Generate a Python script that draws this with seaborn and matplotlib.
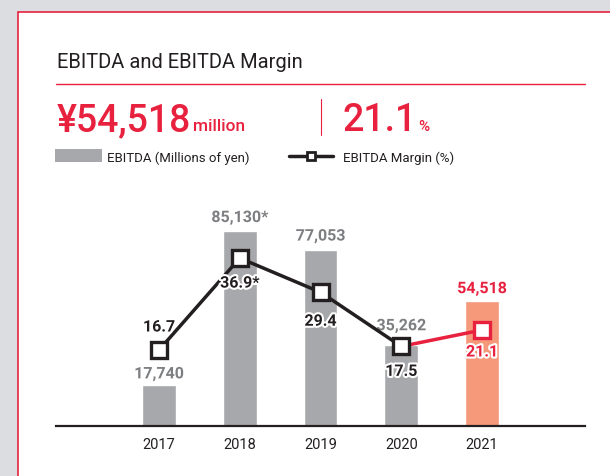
import numpy as np
import matplotlib
matplotlib.use("Agg")
import matplotlib.pyplot as plt
import matplotlib.patheffects as pe
from matplotlib.patches import Rectangle
from matplotlib.lines import Line2D
import seaborn as sns

# data
years = ["2017", "2018", "2019", "2020", "2021"]
ebitda = [17740, 85130, 77053, 35262, 54518]
ebitda_labels = ["17,740", "85,130*", "77,053", "35,262", "54,518"]
margin = [16.7, 36.9, 29.4, 17.5, 21.1]
margin_labels = ["16.7", "36.9*", "29.4", "17.5", "21.1"]

RED = "#e8213f"
GREY = "#a7a8ab"
ORANGE = "#f5997a"
DARK = "#231f20"
LABEL_GREY = "#7d7e81"
BG = "#dcdde0"

sns.set_theme(style="white")
plt.rcParams["font.family"] = ["Roboto", "DejaVu Sans"]

W, H = 610, 477
fig = plt.figure(figsize=(W / 100, H / 100), dpi=100, facecolor=BG)


def fx(px):
    return px / W


def fy(py):
    return 1 - py / H


# white panel with red border (behind the axes)
fig.patches.append(Rectangle((fx(18), -0.1), 1.2, fy(13) + 0.1, transform=fig.transFigure,
                             facecolor="white", edgecolor=RED, lw=1.2, zorder=-5))

# header
fig.text(fx(57), fy(68), "EBITDA and EBITDA Margin", fontsize=14.5, color=DARK,
         va="baseline", ha="left")
fig.lines.append(Line2D([fx(56), fx(585)], [fy(85), fy(85)], transform=fig.transFigure,
                        color=RED, lw=1))
fig.lines.append(Line2D([fx(321), fx(321)], [fy(100), fy(136)], transform=fig.transFigure,
                        color=RED, lw=0.8))

big1 = fig.text(fx(57), fy(131), "¥54,518", fontsize=27, color=RED, va="baseline",
                fontweight="medium")
big2 = fig.text(fx(342), fy(131), "21.1", fontsize=27, color=RED, va="baseline",
                fontweight="medium")
fig.canvas.draw()
r = fig.canvas.get_renderer()
e1 = big1.get_window_extent(r)
e2 = big2.get_window_extent(r)
fig.text((e1.x1 + 2) / W, fy(131), "million", fontsize=12.5, color=RED, va="baseline",
         fontweight="medium")
fig.text((e2.x1 + 2) / W, fy(131), "%", fontsize=11, color=RED, va="baseline",
         fontweight="medium")

# legend
fig.patches.append(Rectangle((fx(55), fy(163)), fx(102) - fx(55), fy(150) - fy(163),
                             transform=fig.transFigure, facecolor=GREY, edgecolor="none"))
fig.text(fx(107), fy(162), "EBITDA (Millions of yen)", fontsize=9.5, color=DARK,
         va="baseline")
fig.lines.append(Line2D([fx(289), fx(333)], [fy(157), fy(157)], transform=fig.transFigure,
                        color=DARK, lw=2.5))
fig.lines.append(Line2D([fx(311)], [fy(157)], transform=fig.transFigure, marker="s",
                        ms=6, mfc="white", mec=DARK, mew=2))
fig.text(fx(343), fy(162), "EBITDA Margin (%)", fontsize=9.5, color=DARK,
         va="baseline")

# chart area
ax_top, ax_bot = 190, 427
ax = fig.add_axes([fx(56), fy(ax_bot), fx(585) - fx(56), (ax_bot - ax_top) / H])
ax.set_facecolor("none")

bar_colors = [GREY] * (len(years) - 1) + [ORANGE]
sns.barplot(x=years, y=ebitda, hue=years, palette=bar_colors, legend=False,
            width=0.42, saturation=1, ax=ax)
px_per_unit = 0.00229
ax.set_ylim(0, (ax_bot - ax_top) / px_per_unit)
ax.set_xlim(-1.2755, 4 + 1.2755)
for s in ["top", "left", "right"]:
    ax.spines[s].set_visible(False)
ax.spines["bottom"].set_color(DARK)
ax.spines["bottom"].set_linewidth(1.6)
ax.set_yticks([])
ax.tick_params(axis="x", length=0, pad=8, labelsize=10.5, labelcolor=DARK)
ax.set_xlabel("")
ax.set_ylabel("")

stroke = [pe.withStroke(linewidth=3, foreground="white")]
bar_off = [7, 9, 9, 15, 8]
for i, (v, lab) in enumerate(zip(ebitda, ebitda_labels)):
    col = RED if i == len(years) - 1 else LABEL_GREY
    ax.annotate(lab, (i, v), xytext=(0, bar_off[i]), textcoords="offset pixels",
                ha="center", va="baseline", fontsize=11.5, fontweight="bold",
                color=col, path_effects=stroke, zorder=6)

ax2 = ax.twinx()
ax2.set_ylim(0, (ax_bot - ax_top) / 4.55)
ax2.set_axis_off()
xpos = np.arange(len(years))

sns.lineplot(x=xpos[3:], y=margin[3:], color=RED, lw=2.5, ax=ax2, zorder=3)
sns.lineplot(x=xpos[:4], y=margin[:4], color=DARK, lw=2.5, marker="s", ms=11,
             mfc="white", mec=DARK, mew=2.4, ax=ax2, zorder=4)
ax2.plot(xpos[4:], margin[4:], ls="none", marker="s", ms=11, mfc="white",
         mec=RED, mew=2.4, zorder=4)

mar_off = [23, -25, -29, -25, -22]
for i, (v, lab) in enumerate(zip(margin, margin_labels)):
    col = RED if i == len(years) - 1 else DARK
    ax2.annotate(lab, (i, v), xytext=(0, mar_off[i]), textcoords="offset pixels",
                 ha="center", va="center", fontsize=11.5, fontweight="bold",
                 color=col, path_effects=stroke, zorder=7)

fig.savefig("out.png", dpi=100, facecolor=BG)
